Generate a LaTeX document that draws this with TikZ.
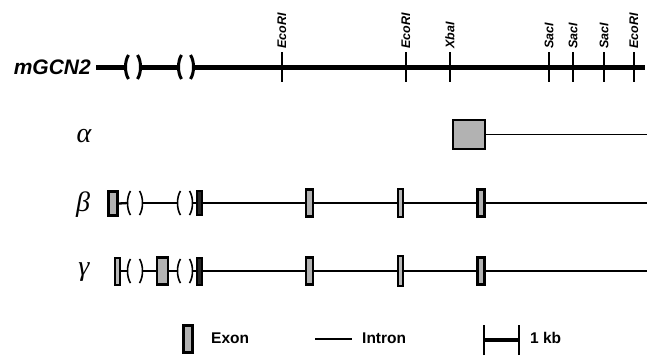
\documentclass[tikz,border=0pt]{standalone}
\usepackage{fontspec}
\setmainfont{Liberation Sans}
\newfontfamily\greekfont{Liberation Serif}
\begin{document}
\begin{tikzpicture}[x=1pt,y=-1pt,
  genome/.style={line width=5pt},
  transcript/.style={line width=2.3pt},
  thinline/.style={line width=1.5pt},
  site/.style={line width=1.8pt},
  sitelabel/.style={rotate=90,anchor=west,inner sep=0pt,font=\fontsize{12.5}{12.5}\selectfont\bfseries\itshape},
  exon/.style={draw=black,line width=2.5pt,fill=gray!60,inner sep=0pt,minimum width=#1,minimum height=27pt},
  exon/.default=6pt,
  darkexon/.style={draw=black,line width=2pt,fill=gray!55,inner sep=0pt,minimum width=#1,minimum height=27pt},
  darkexon/.default=5pt,
  isoform/.style={font=\greekfont\itshape\fontsize{28}{28}\selectfont,inner sep=0pt},
  legendtext/.style={anchor=west,inner sep=0pt,font=\fontsize{15.5}{15.5}\selectfont\bfseries},
  lbrk/.pic={\draw[line width=#1] (2.5,-12) .. controls (-1.5,-6) and (-1.5,6) .. (2.5,12);},
  rbrk/.pic={\draw[line width=#1] (-2.5,-12) .. controls (1.5,-6) and (1.5,6) .. (-2.5,12);}
]
\useasboundingbox (0,0) rectangle (650,356);

% ---------- genomic map ----------
\node[anchor=east,inner sep=0pt,font=\fontsize{21}{21}\selectfont\bfseries\itshape] (mgcn) at (91,67) {mGCN2};
\coordinate (m0) at (96,67);
\coordinate (m1) at (126,67);
\coordinate (m2) at (140,67);
\coordinate (m3) at (179,67);
\coordinate (m4) at (193,67);
\coordinate (mend) at (645,67);
\draw[genome] (m0) -- (m1);
\draw[genome] (m2) -- (m3);
\draw[genome] (m4) -- (mend);
\pic at (m1) {lbrk=3pt};
\pic at (m2) {rbrk=3pt};
\pic at (m3) {lbrk=3pt};
\pic at (m4) {rbrk=3pt};

% restriction sites
\foreach \name/\xx/\lbl in {e1/282/EcoRI, e2/406/EcoRI, x1/450/XbaI, s1/549/SacI, s2/573/SacI, s3/604/SacI, e3/634/EcoRI}{
  \coordinate (\name top) at (\xx,52);
  \coordinate (\name bot) at (\xx,82);
  \draw[site] (\name top) -- (\name bot);
  \node[sitelabel] (\name lab) at (\xx,49) {\lbl};
}

% ---------- alpha ----------
\node[isoform] (alpha) at (84,136) {α};
\node[exon=32pt,minimum height=29pt] (a1) at (469,134.5) {};
\coordinate (aend) at (647,134.5);
\draw[thinline] (a1.east) -- (aend);

% ---------- beta ----------
\node[isoform] (beta) at (83,205) {β};
\node[exon=9pt,minimum height=24pt] (b1) at (113,203.5) {};
\coordinate (bp1) at (128,203);
\coordinate (bp2) at (142,203);
\coordinate (bp3) at (178,203);
\coordinate (bp4) at (192,203);
\node[darkexon,minimum height=24pt,fill=black!85] (b2) at (199.5,203) {};
\node[exon=7pt] (b3) at (309.5,203) {};
\node[darkexon,minimum height=28pt] (b4) at (400.5,203) {};
\node[exon=7pt] (b5) at (481,203) {};
\coordinate (bend) at (647,203);
\draw[transcript] (b1.east) -- (bp1);
\draw[transcript] (bp2) -- (bp3);
\draw[transcript] (bp4) -- (b2.west);
\draw[transcript] (b2.east) -- (b3.west);
\draw[transcript] (b3.east) -- (b4.west);
\draw[transcript] (b4.east) -- (b5.west);
\draw[transcript] (b5.east) -- (bend);
\pic at (bp1) {lbrk=1.6pt};
\pic at (bp2) {rbrk=1.6pt};
\pic at (bp3) {lbrk=1.6pt};
\pic at (bp4) {rbrk=1.6pt};

% ---------- gamma ----------
\node[isoform] (gamma) at (84,272) {γ};
\node[darkexon] (g1) at (117.5,271) {};
\coordinate (gp1) at (128,271);
\coordinate (gp2) at (142,271);
\node[exon=11pt] (g2) at (162.5,271) {};
\coordinate (gp3) at (178,271);
\coordinate (gp4) at (192,271);
\node[darkexon,fill=black!85] (g3) at (199.5,271) {};
\node[exon=7pt] (g4) at (309.5,271) {};
\node[darkexon,minimum height=30pt] (g5) at (400.5,271) {};
\node[exon=7pt] (g6) at (481,271) {};
\coordinate (gend) at (647,271);
\draw[transcript] (g1.east) -- (gp1);
\draw[transcript] (gp2) -- (g2.west);
\draw[transcript] (g2.east) -- (gp3);
\draw[transcript] (gp4) -- (g3.west);
\draw[transcript] (g3.east) -- (g4.west);
\draw[transcript] (g4.east) -- (g5.west);
\draw[transcript] (g5.east) -- (g6.west);
\draw[transcript] (g6.east) -- (gend);
\pic at (gp1) {lbrk=1.6pt};
\pic at (gp2) {rbrk=1.6pt};
\pic at (gp3) {lbrk=1.6pt};
\pic at (gp4) {rbrk=1.6pt};

% ---------- legend ----------
\node[exon=9pt,minimum height=27pt] (lexon) at (188,339) {};
\node[legendtext] (lexontxt) at (211,338) {Exon};
\coordinate (li0) at (315,339);
\coordinate (li1) at (352,339);
\draw[thinline] (li0) -- (li1);
\node[legendtext] (lintrontxt) at (362,338) {Intron};
\coordinate (sb0) at (484,340);
\coordinate (sb1) at (519,340);
\draw[line width=2pt] ([yshift=-15pt]sb0) -- ([yshift=15pt]sb0);
\draw[line width=2pt] ([yshift=-15pt]sb1) -- ([yshift=15pt]sb1);
\draw[line width=4pt] (sb0) -- (sb1);
\node[legendtext] (kbtxt) at (530,338) {1 kb};
\end{tikzpicture}
\end{document}
